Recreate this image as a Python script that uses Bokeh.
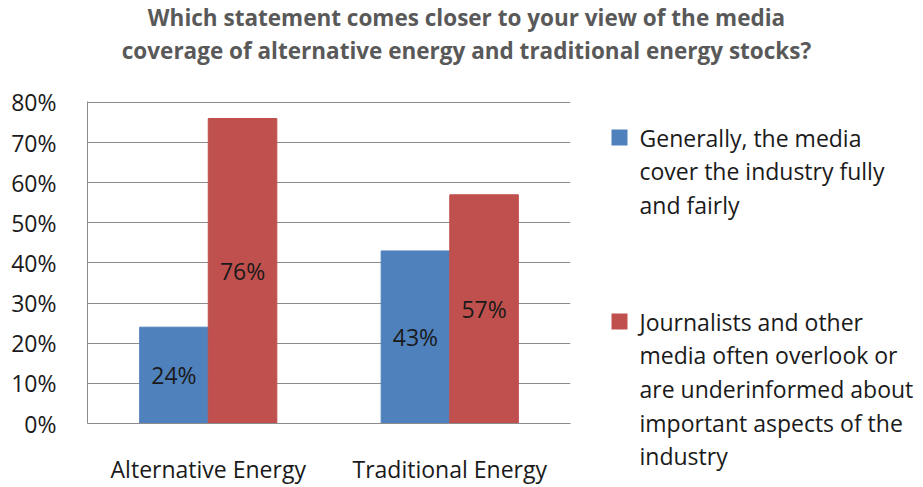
from bokeh.plotting import figure
from bokeh.layouts import column, row
from bokeh.models import (FixedTicker, PrintfTickFormatter, ColumnDataSource,
                          FactorRange, Range1d)
from bokeh.transform import dodge
from bokeh.core.properties import value
from bokeh.embed import file_html
from bokeh.resources import INLINE

# ---------------- data ----------------
categories = ["Alternative Energy", "Traditional Energy"]
series_fully_fairly = [24, 43]
series_overlook = [76, 57]
y_ticks = [0, 10, 20, 30, 40, 50, 60, 70, 80]
title_lines = ["Which statement comes closer to your view of the media",
               "coverage of alternative energy and traditional energy stocks?"]
legend_fully_fairly = ["Generally, the media", "cover the industry fully", "and fairly"]
legend_overlook = ["Journalists and other", "media often overlook or",
                   "are underinformed about", "important aspects of the", "industry"]

# ---------------- layout / style ----------------
W, H = 923, 487
TITLE_H = 75
CHART_W = 590
FL, FR, FT, FB = 87, 570, 102, 425   # chart frame edges (page pixels)
YMAX = 80
FONT = "Open Sans"
BLUE = "#4F81BD"
RED = "#C0504D"
GRID = "#8C8C8C"
TXT = "#1a1a1a"
FS = "23px"


def blank_fig(w, h, x0, y0):
    f = figure(width=w, height=h, x_range=Range1d(x0, x0 + w),
               y_range=Range1d(y0 + h, y0), output_backend="svg",
               toolbar_location=None, x_axis_location=None, y_axis_location=None,
               min_border=0, min_border_left=0, min_border_right=0,
               min_border_top=0, min_border_bottom=0)
    f.outline_line_color = None
    f.grid.visible = False
    f.background_fill_color = "white"
    f.border_fill_color = "white"
    return f


# ---- title ----
pt = blank_fig(W, TITLE_H, 0, 0)
pt.text(x=[466] * len(title_lines), y=[17 + 33 * i for i in range(len(title_lines))],
        text=title_lines, text_align="center", text_baseline="middle",
        text_font=value(FONT), text_font_style="bold", text_font_size="22.5px",
        text_color="#595959")

# ---- chart ----
ytop = YMAX * (FB - FT + 1) / (FB - FT)
p = figure(x_range=FactorRange(*categories), y_range=Range1d(0, ytop),
           width=CHART_W, height=H - TITLE_H, output_backend="svg",
           toolbar_location=None, title=None,
           min_border_left=FL, min_border_right=CHART_W - FR,
           min_border_top=FT - TITLE_H - 1, min_border_bottom=H - FB)
p.outline_line_color = None
p.background_fill_color = "white"
p.border_fill_color = "white"

bw = 0.284
src = ColumnDataSource(dict(
    cat=categories,
    a=series_fully_fairly,
    b=series_overlook,
    a_mid=[v / 2 for v in series_fully_fairly],
    b_mid=[v / 2 for v in series_overlook],
    a_lab=[f"{v}%" for v in series_fully_fairly],
    b_lab=[f"{v}%" for v in series_overlook],
))

p.vbar(x=dodge("cat", -bw / 2, range=p.x_range), top="a", width=bw,
       fill_color=BLUE, line_color=BLUE, source=src)
p.vbar(x=dodge("cat", bw / 2, range=p.x_range), top="b", width=bw,
       fill_color=RED, line_color=RED, source=src)

for col, off in (("a", -bw / 2), ("b", bw / 2)):
    p.text(x=dodge("cat", off, range=p.x_range), y=f"{col}_mid", text=f"{col}_lab",
           text_align="center", text_baseline="middle",
           text_font=value(FONT), text_font_size=FS, text_color=TXT,
           source=src)

p.yaxis.ticker = FixedTicker(ticks=y_ticks)
p.yaxis.formatter = PrintfTickFormatter(format="%d%%")
p.yaxis.major_tick_line_color = None
p.yaxis.minor_tick_line_color = None
p.yaxis.axis_line_color = GRID
p.yaxis.major_label_standoff = 25
p.yaxis.major_label_text_font = FONT
p.yaxis.major_label_text_font_size = FS
p.yaxis.major_label_text_color = TXT

p.xaxis.major_tick_line_color = None
p.xaxis.minor_tick_line_color = None
p.xaxis.axis_line_color = GRID
p.xaxis.major_label_standoff = 23
p.xaxis.major_label_text_font = FONT
p.xaxis.major_label_text_font_size = FS
p.xaxis.major_label_text_color = TXT

p.xgrid.grid_line_color = None
p.ygrid.ticker = FixedTicker(ticks=y_ticks)
p.ygrid.grid_line_color = GRID
p.ygrid.grid_line_width = 1

# ---- legend ----
pl = blank_fig(W - CHART_W, H - TITLE_H, CHART_W, TITLE_H)
LEG_X_SQ, LEG_X_TXT, PITCH = 619, 639, 33.7
groups = [(BLUE, legend_fully_fairly, 137), (RED, legend_overlook, 321)]
pl.rect(x=[LEG_X_SQ] * 2, y=[g[2] for g in groups], width=16, height=16,
        fill_color=[g[0] for g in groups], line_color=None)
lx, ly, lt = [], [], []
for _, lines, y0 in groups:
    for i, line in enumerate(lines):
        lx.append(LEG_X_TXT)
        ly.append(y0 + PITCH * i)
        lt.append(line)
pl.text(x=lx, y=ly, text=lt, text_align="left", text_baseline="middle",
        text_font=value(FONT), text_font_size=FS, text_color=TXT)

layout = column(pt, row(p, column(pl, spacing=0), spacing=0), spacing=0)
open("out.html", "w").write(file_html(layout, INLINE))
